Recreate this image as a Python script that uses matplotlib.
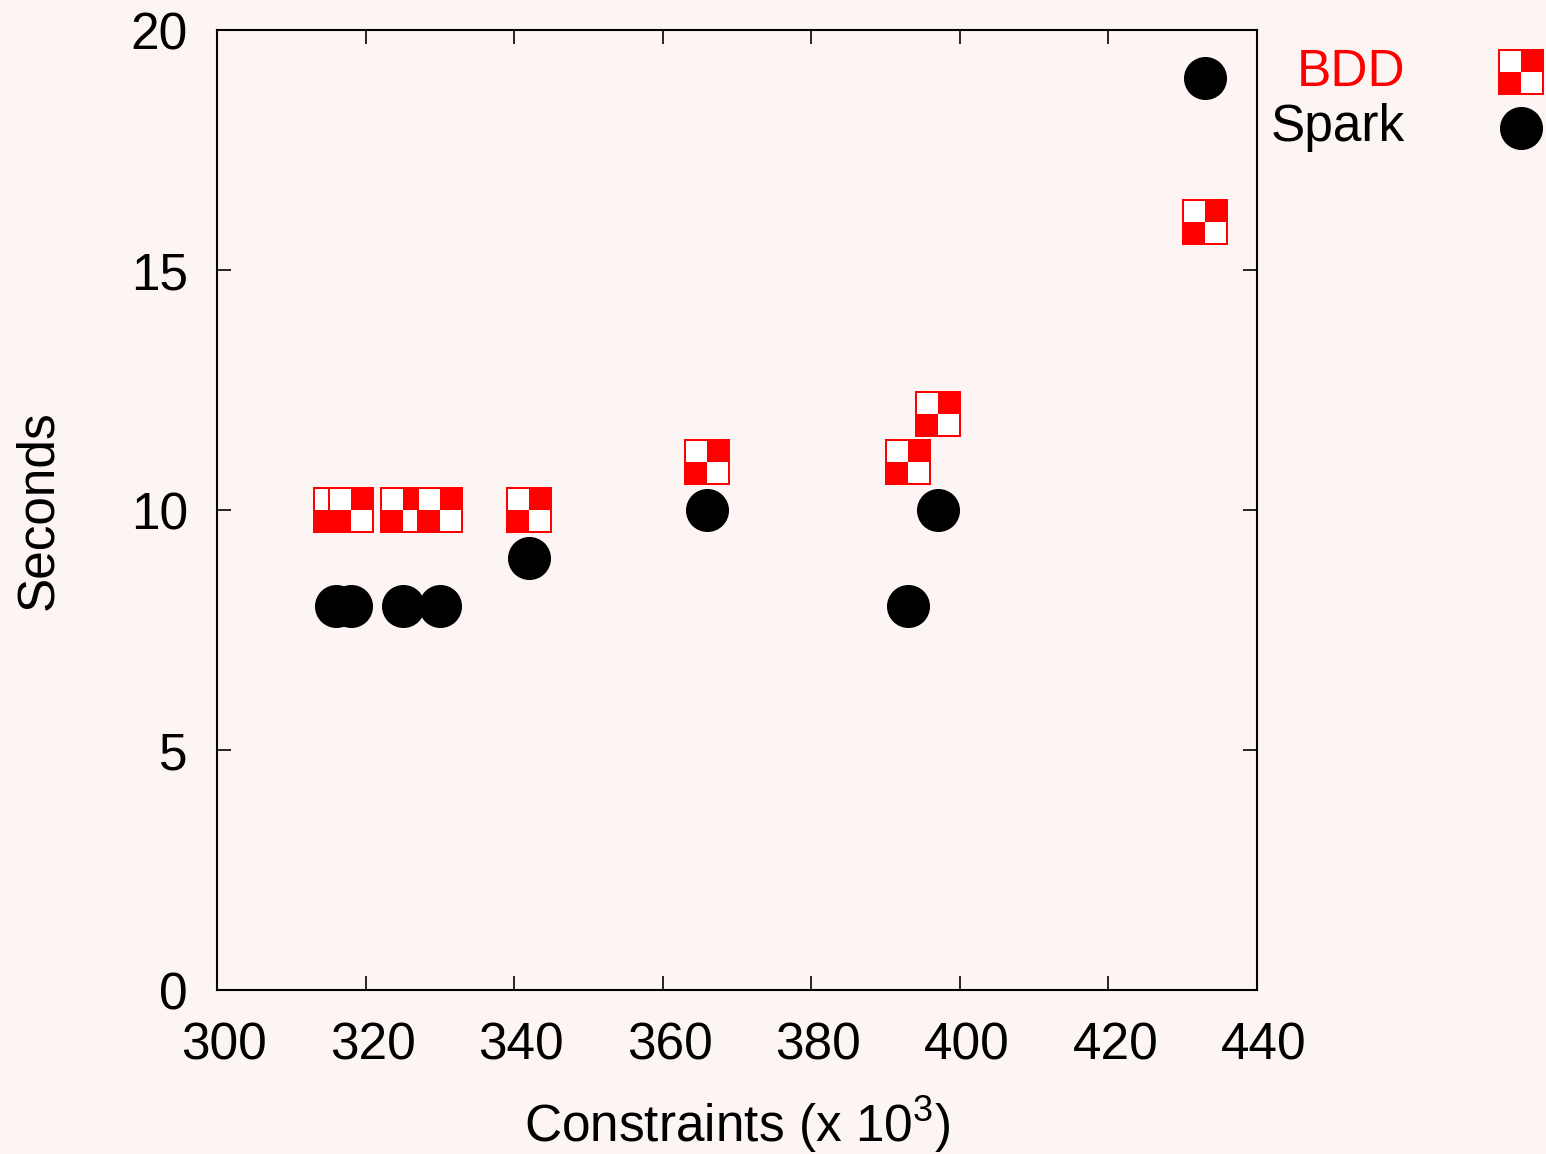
import numpy as np
import matplotlib
matplotlib.use("Agg")
from matplotlib import pyplot as plt
from matplotlib.path import Path
from matplotlib.lines import Line2D
from matplotlib.transforms import ScaledTranslation

plt.rcParams['font.family'] = ['Liberation Sans', 'DejaVu Sans']
plt.rcParams['mathtext.fontset'] = 'custom'
plt.rcParams['mathtext.rm'] = 'Liberation Sans'
plt.rcParams['mathtext.it'] = 'Liberation Sans'

# constraints (x 10^3) and seconds
bdd_x = [316, 318, 325, 330, 342, 366, 393, 397, 433]
bdd_y = [10, 10, 10, 10, 10, 11, 11, 12, 16]
spark_x = [316, 318, 325, 330, 342, 366, 393, 397, 433]
spark_y = [8, 8, 8, 8, 9, 10, 8, 10, 19]

bg = '#fdf5f3'
fs = 37

# checker marker: red square, white top-left and bottom-right quarters
sq = Path([(-1, -1), (1, -1), (1, 1), (-1, 1), (-1, -1)],
          [Path.MOVETO, Path.LINETO, Path.LINETO, Path.LINETO, Path.CLOSEPOLY])
a, b = 0.9, 0.02
quad_verts = [(-1, -1), (1, 1),
              (-a, b), (-b, b), (-b, a), (-a, a), (-a, b),
              (b, -a), (a, -a), (a, -b), (b, -b), (b, -a)]
quad_codes = [Path.MOVETO, Path.MOVETO,
              Path.MOVETO, Path.LINETO, Path.LINETO, Path.LINETO, Path.CLOSEPOLY,
              Path.MOVETO, Path.LINETO, Path.LINETO, Path.LINETO, Path.CLOSEPOLY]
quad = Path(quad_verts, quad_codes)

fig = plt.figure(figsize=(15.46, 11.54), dpi=100, facecolor=bg)
ax = fig.add_axes([0.1404, 0.1421, 0.813 - 0.1404, 0.974 - 0.1421])
ax.set_facecolor(bg)

ms_sq = 33
ms_c = 31
for x, y in zip(bdd_x, bdd_y):
    ax.plot(x, y, marker=sq, ms=ms_sq, color='red', mew=0, ls='none', clip_on=False)
    ax.plot(x, y, marker=quad, ms=ms_sq, color='white', mew=0, ls='none', clip_on=False)
ax.plot(spark_x, spark_y, 'o', ms=ms_c, color='black', mew=0, ls='none', clip_on=False)

ax.set_xlim(300, 440)
ax.set_ylim(0, 20)
ax.set_xticks(range(300, 441, 20))
ax.set_yticks(range(0, 21, 5))
ax.tick_params(direction='in', length=10, width=1.2, top=True, right=True,
               labelsize=fs)
ax.tick_params(axis='x', pad=23)
ax.tick_params(axis='y', pad=21)
for s in ax.spines.values():
    s.set_linewidth(1.5)

# gnuplot puts the x tick labels a little right of the ticks
shift = ScaledTranslation(7 / 100, 0, fig.dpi_scale_trans)
for lab in ax.get_xticklabels():
    lab.set_transform(lab.get_transform() + shift)

ax.set_xlabel('Constraints (x 10$^{3}$)', fontsize=fs)
ax.set_ylabel('Seconds', fontsize=fs)
ax.xaxis.set_label_coords(0.5, -0.1406)
ax.xaxis.label.set_va('center')
ax.yaxis.set_label_coords(-0.172, 0.5)
ax.yaxis.label.set_va('center')

# key, label right-aligned with its marker to the right
fig.text(1405 / 1546, 1 - 72 / 1154, 'BDD', color='red', fontsize=fs, ha='right', va='center')
fig.text(1405 / 1546, 1 - 128 / 1154, 'Spark', color='black', fontsize=fs, ha='right', va='center')
kx = 1521 / 1546
fig.add_artist(Line2D([kx], [1 - 72 / 1154], marker=sq, ms=ms_sq, color='red', mew=0, ls='none'))
fig.add_artist(Line2D([kx], [1 - 72 / 1154], marker=quad, ms=ms_sq, color='white', mew=0, ls='none'))
fig.add_artist(Line2D([kx], [1 - 128 / 1154], marker='o', ms=ms_c, color='black', mew=0, ls='none'))

fig.savefig('out.png', dpi=100, facecolor=bg)
